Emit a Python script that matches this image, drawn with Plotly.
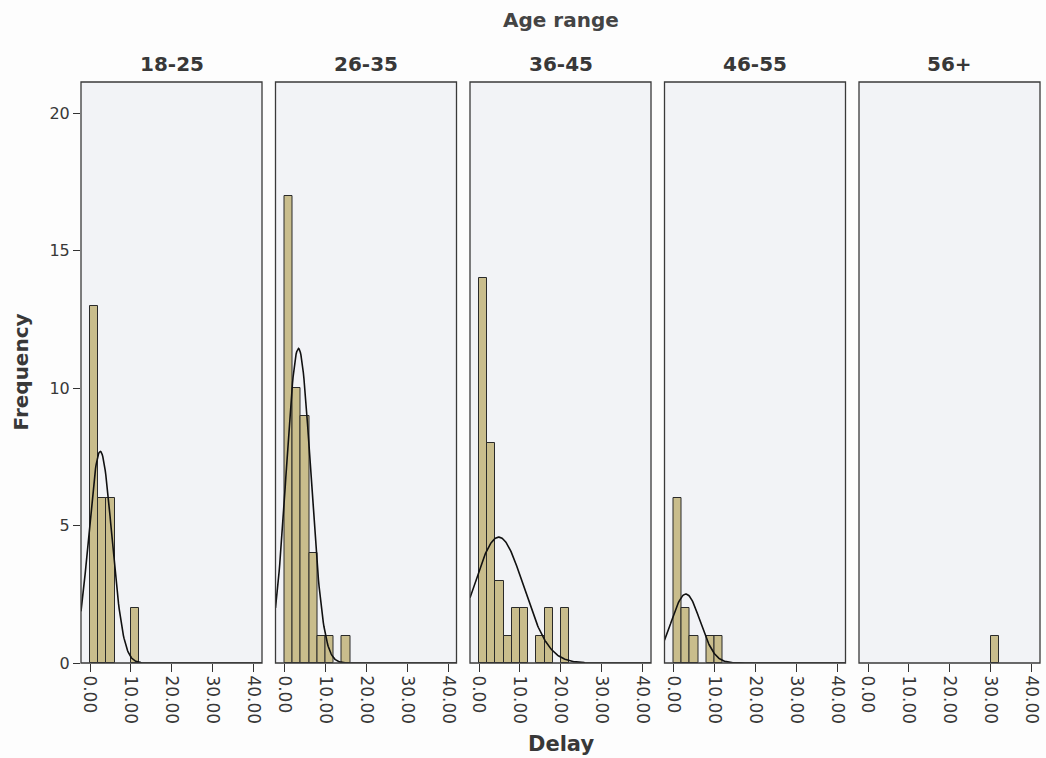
import numpy as np
import plotly.graph_objects as go

# ---- data ----
age_groups = ["18-25", "26-35", "36-45", "46-55", "56+"]
bin_width = 2.0
bin_lefts = [
    [0, 2, 4, 10],
    [0, 2, 4, 6, 8, 10, 14],
    [0, 2, 4, 6, 8, 10, 14, 16, 20],
    [0, 2, 4, 8, 10],
    [30],
]
counts = [
    [13, 6, 6, 2],
    [17, 10, 9, 4, 1, 1, 1],
    [14, 8, 3, 1, 2, 2, 1, 2, 2],
    [6, 2, 1, 1, 1],
    [1],
]
# fitted normal curve parameters; None = no curve
curve_mean = [2.5, 3.4, 4.8, 3.0, None]
curve_sd = [2.8, 3.0, 6.1, 3.5, None]
x_tickvals = [0, 10, 20, 30, 40]
x_ticktext = ["0.00", "10.00", "20.00", "30.00", "40.00"]
y_tickvals = [0, 5, 10, 15, 20]

# ---- layout geometry ----
W, H = 1046, 758
ml, mr, mt, mb = 81, 6, 82, 95
plot_w = W - ml - mr
panel_w = 181
gap = (plot_w - 5 * panel_w) / 4
xrange_ = [-2.2, 42.0]
yrange_ = [0, 21.13]

bar_color = "#c9bd8c"
frame_color = "#3a3a3a"
text_color = "#383838"
font_fam = "DejaVu Sans, Verdana, sans-serif"

fig = go.Figure()
for i, g in enumerate(age_groups):
    xa = "x" if i == 0 else f"x{i+1}"
    centers = [l + bin_width / 2 for l in bin_lefts[i]]
    fig.add_trace(go.Bar(
        x=centers, y=counts[i], width=bin_width,
        marker=dict(color=bar_color, line=dict(color="#2a2a2a", width=1)),
        xaxis=xa, yaxis="y", showlegend=False,
    ))
    if curve_mean[i] is not None:
        n = sum(counts[i])
        xs = np.linspace(xrange_[0], xrange_[1], 300)
        ys = n * bin_width * np.exp(-0.5 * ((xs - curve_mean[i]) / curve_sd[i]) ** 2) / (curve_sd[i] * np.sqrt(2 * np.pi))
        fig.add_trace(go.Scatter(
            x=xs, y=ys, mode="lines", line=dict(color="#111111", width=1.6),
            xaxis=xa, yaxis="y", showlegend=False, hoverinfo="skip",
        ))

layout = dict(
    width=W, height=H,
    margin=dict(l=ml, r=mr, t=mt, b=mb, autoexpand=False),
    paper_bgcolor="#fdfdfd",
    plot_bgcolor="#f2f3f6",
    bargap=0,
    font=dict(family=font_fam, color=text_color),
    yaxis=dict(
        range=yrange_, tickvals=y_tickvals, ticks="outside", ticklen=7,
        tickcolor="#333", showgrid=False, zeroline=False, showline=False,
        automargin=False,
        tickfont=dict(size=16, color=text_color),
        domain=[0, 1],
    ),
)
annotations = []
shapes = []
for i, g in enumerate(age_groups):
    left = ml + i * (panel_w + gap)
    d0 = (left - ml) / plot_w
    d1 = (left + panel_w - ml) / plot_w
    key = "xaxis" if i == 0 else f"xaxis{i+1}"
    layout[key] = dict(
        domain=[d0, d1], range=xrange_, tickvals=x_tickvals, ticktext=x_ticktext,
        tickangle=90, ticks="outside", ticklen=8, tickcolor="#333",
        showgrid=False, zeroline=False, showline=False, automargin=False,
        anchor="y",
        tickfont=dict(size=17, color=text_color),
    )
    xref = "x domain" if i == 0 else f"x{i+1} domain"
    shapes.append(dict(
        type="rect", xref=xref, yref="y domain", x0=0, x1=1, y0=0, y1=1,
        line=dict(color=frame_color, width=1.3), fillcolor="rgba(0,0,0,0)",
        layer="above",
    ))
    annotations.append(dict(
        text=f"<b>{g}</b>", x=(d0 + d1) / 2, xref="paper", y=1.0, yref="paper",
        yshift=18, showarrow=False, font=dict(size=20, color=text_color),
        xanchor="center", yanchor="middle",
    ))
annotations.append(dict(
    text="<b>Age range</b>", x=0.5, xref="paper", y=1.0, yref="paper",
    yshift=62, showarrow=False, font=dict(size=20, color="#444"),
    xanchor="center", yanchor="middle",
))
annotations.append(dict(
    text="<b>Delay</b>", x=0.5, xref="paper", y=0, yref="paper",
    yshift=-81, showarrow=False, font=dict(size=21, color=text_color),
    xanchor="center", yanchor="middle",
))
annotations.append(dict(
    text="<b>Frequency</b>", x=0, xref="paper", y=0.5, yref="paper",
    xshift=-61, textangle=-90, showarrow=False, font=dict(size=20, color=text_color),
    xanchor="center", yanchor="middle",
))
layout["annotations"] = annotations
layout["shapes"] = shapes
fig.update_layout(**layout)
fig.write_html(
    "out.html",
    config={"displayModeBar": False},
    post_script="document.body.style.margin='0';document.body.style.overflow='hidden';",
)
